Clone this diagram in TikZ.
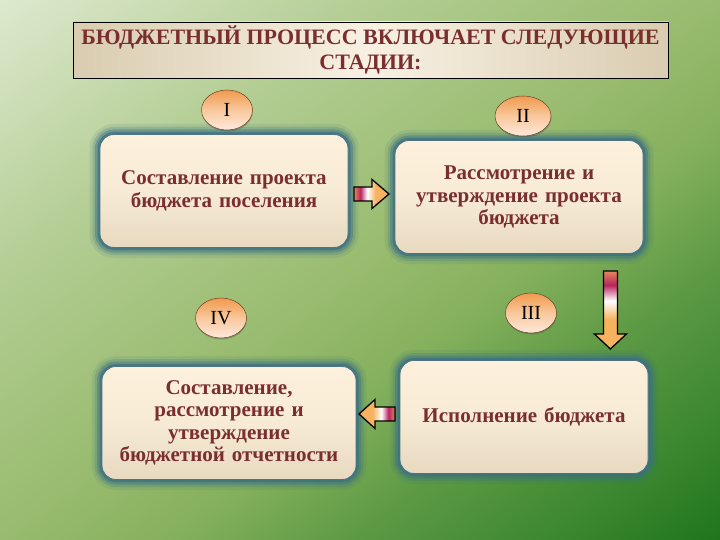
\documentclass[tikz,border=0pt]{standalone}
\usepackage{fontspec}
\setmainfont{Liberation Serif}
\usetikzlibrary{calc,shapes.geometric,shadows}

\definecolor{txtc}{HTML}{7A2E2E}
\definecolor{bgA}{HTML}{DDE9CE}
\definecolor{bgB}{HTML}{B3CD93}
\definecolor{bgC}{HTML}{98BB6E}
\definecolor{bgD}{HTML}{84B05C}
\definecolor{bgE}{HTML}{5E9A44}
\definecolor{bgF}{HTML}{3C8830}
\definecolor{bgG}{HTML}{1F751D}
\definecolor{glowc}{HTML}{3A6F82}
\definecolor{boxT}{HTML}{FDF1DD}
\definecolor{boxM}{HTML}{F7EBD5}
\definecolor{boxB}{HTML}{E8D9C0}
\definecolor{titE}{HTML}{D9CCB0}
\definecolor{titC}{HTML}{F8F1E3}
\definecolor{ellT}{HTML}{F09A4E}
\definecolor{ellM}{HTML}{F9C89C}
\definecolor{ellB}{HTML}{FDE9DC}
\definecolor{arM}{HTML}{B8245E}
\definecolor{arO}{HTML}{F6B25E}

\pgfdeclareverticalshading{bgshade}{100bp}{color(0bp)=(bgG); color(25bp)=(bgG); color(31bp)=(bgF); color(38bp)=(bgE); color(44bp)=(bgD); color(50bp)=(bgC); color(62bp)=(bgB); color(75bp)=(bgA); color(100bp)=(bgA)}
\pgfdeclarehorizontalshading{arrshade}{100bp}{color(0bp)=(arO); color(25bp)=(arO!70!arM); color(34bp)=(arM); color(44bp)=(white); color(56bp)=(arO); color(100bp)=(arO)}

\tikzset{
  stagebox/.style={rounded corners=14, inner sep=0pt, align=center,
    minimum width=248, minimum height=113, text width=240,
    font=\fontsize{21}{22.5}\selectfont\bfseries, text=txtc,
    preaction={draw=glowc, line width=21, opacity=0.12},
    preaction={draw=glowc, line width=15, opacity=0.22},
    preaction={draw=glowc, line width=10, opacity=0.4},
    preaction={draw=glowc, line width=5, opacity=0.7},
    top color=boxT, bottom color=boxB, middle color=boxM,
    draw=glowc!70!gray, line width=0.8},
  numoval/.style={ellipse, inner sep=0pt, minimum width=51, minimum height=40,
    top color=ellT, bottom color=ellB, middle color=ellM, draw=brown!55!black, line width=0.5,
    font=\fontsize{20}{22}\selectfont, text=black,
    drop shadow={shadow xshift=0.4pt, shadow yshift=-1.5pt, opacity=0.35, fill=black!70}},
  blockarr/.style={draw=black, line width=1.3, line join=miter, shading=arrshade},
  titlebox/.style={draw=black, line width=0.9, inner sep=0pt,
    minimum width=595, minimum height=56, align=center,
    left color=titE, right color=titE, middle color=titC,
    font=\fontsize{22}{25}\selectfont\bfseries, text=txtc}
}

\begin{document}
\begin{tikzpicture}[x=1pt,y=-1pt]
\useasboundingbox (0,0) rectangle (720,540);
\begin{scope}
\clip (0,0) rectangle (720,540);
\begin{scope}[transform canvas={rotate around={36.87:(360,270)}}]
\shade[shading=bgshade] (-90,-162) rectangle (810,702);
\end{scope}
\end{scope}

\node[titlebox] (title) at (370.5,50) {БЮДЖЕТНЫЙ ПРОЦЕСС ВКЛЮЧАЕТ СЛЕДУЮЩИЕ\\СТАДИИ:};

\node[stagebox] (b1) at (224,191) {Составление проекта\\бюджета поселения};
\node[stagebox] (b2) at (519,197) {Рассмотрение и\\утверждение проекта\\бюджета};
\node[stagebox] (b3) at (524,417) {Исполнение бюджета};
\node[stagebox, minimum width=254] (b4) at (229,423) {Составление,\\рассмотрение и\\утверждение\\бюджетной отчетности};

\node[numoval] (n1) at (227,110) {I};
\node[numoval, minimum width=56] (n2) at (523,116) {II};
\node[numoval] (n3) at (531,313) {III};
\node[numoval] (n4) at (221,318) {IV};

% right arrow I -> II
\coordinate (m12) at ($(b1.east)!0.5!(b2.west)$);
\begin{scope}[shift={(m12)}]
\path[blockarr, shading angle=0] (-17.5,-7) -- (0.5,-7) -- (0.5,-14.5) -- (17.5,0) -- (0.5,14.5) -- (0.5,7) -- (-17.5,7) -- cycle;
\end{scope}

% down arrow II -> III
\coordinate (m23) at ($(b2.south east)!0.5!(b3.north east)$);
\begin{scope}[shift={($(m23)+(-35.5,3)$)}]
\path[blockarr, shading angle=-90] (-7,-39) -- (-7,24) -- (-16,24) -- (0,39) -- (16,24) -- (7,24) -- (7,-39) -- cycle;
\end{scope}

% left arrow III -> IV
\coordinate (m34) at ($(b3.west)!0.5!(b4.east)$);
\begin{scope}[shift={($(m34)+(-1,-6)$)}]
\path[blockarr, shading angle=180] (18,-7) -- (-2,-7) -- (-2,-14.5) -- (-18,0) -- (-2,14.5) -- (-2,7) -- (18,7) -- cycle;
\end{scope}
\end{tikzpicture}
\end{document}
